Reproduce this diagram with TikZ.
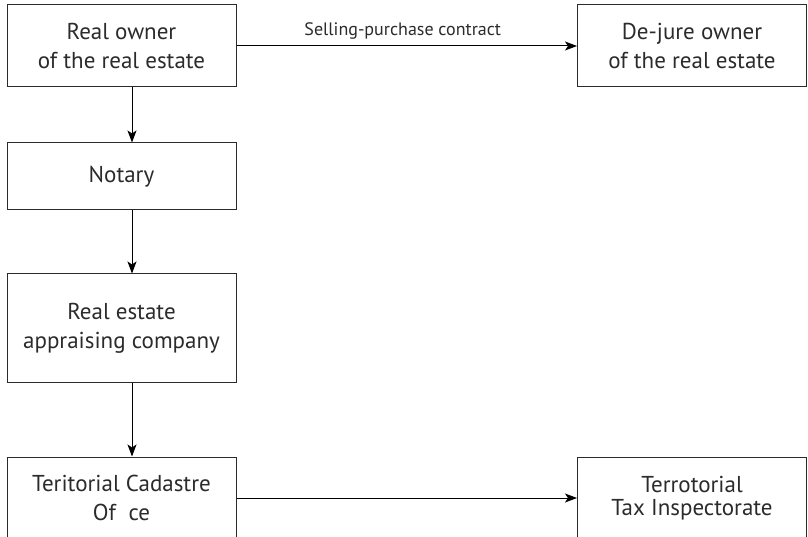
\documentclass[tikz,border=0pt]{standalone}
\usepackage{fontspec}
\setmainfont{PT Sans}
\usetikzlibrary{arrows.meta}
\definecolor{ink}{HTML}{2B2B2B}
\tikzset{
  stagebox/.style={draw=ink, line width=1pt, minimum width=229pt, align=center,
    text=ink, font=\fontsize{23}{29}\selectfont, inner sep=0pt},
  flow/.style={draw=black, line width=1pt,
    -{Stealth[length=12pt,width=9pt,inset=3pt]}},
  flowlabel/.style={text=ink, font=\fontsize{18}{21}\selectfont, inner sep=0pt}
}
\begin{document}
\begin{tikzpicture}[x=1pt,y=-1pt]
  \useasboundingbox (0,0) rectangle (808,537);
  \clip (0,0) rectangle (808,537);
  % left column
  \node[stagebox, minimum height=82pt] (owner) at (121.5,46)
    {Real owner\\of the real estate};
  \node[stagebox, minimum height=67pt] (notary) at (121.5,176.5) {Notary};
  \node[stagebox, minimum height=108pt] (appraiser) at (121.5,328)
    {Real estate\\appraising company};
  \node[stagebox, minimum height=82pt] (cadastre) at (121.5,498)
    {Teritorial Cadastre\\Of\hspace{0.55em}ce};
  % right column
  \node[stagebox, minimum height=82pt] (dejure) at (692,46)
    {De-jure owner\\of the real estate};
  \node[stagebox, minimum height=82pt, font=\fontsize{23}{23}\selectfont] (tax) at (692,498)
    {Terrotorial\\Tax Inspectorate};
  % the vertical flow runs a little right of the column centre
  \coordinate (spine) at (132,0);
  % connectors
  \draw[flow] (owner.south -| spine) -- (notary.north -| spine);
  \draw[flow] (notary.south -| spine) -- (appraiser.north -| spine);
  \draw[flow] (appraiser.south -| spine) -- (cadastre.north -| spine);
  \draw[flow] (owner) -- node[flowlabel, above=6pt, xshift=-4pt] {Selling-purchase contract} (dejure);
  \draw[flow] (cadastre) -- (tax);
\end{tikzpicture}
\end{document}
